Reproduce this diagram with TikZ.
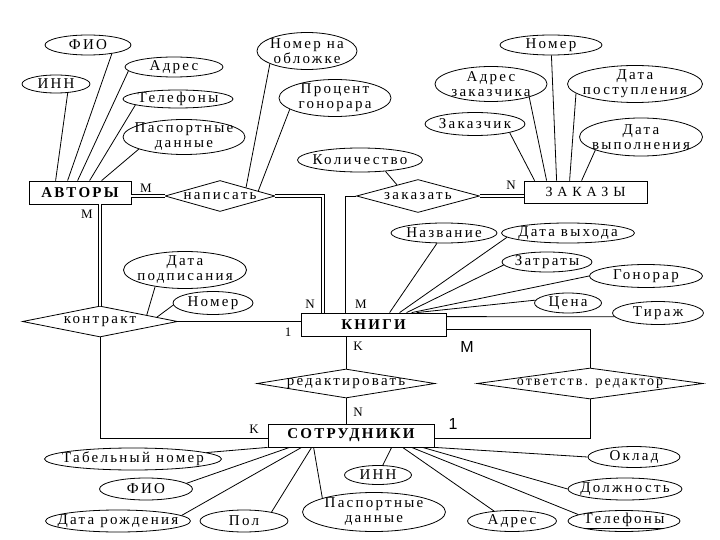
\documentclass[tikz,border=0pt]{standalone}
\usepackage{fontspec}
\setmainfont{Liberation Serif}[LetterSpace=15]
\newfontfamily\sansf{Liberation Sans}
\usetikzlibrary{shapes.geometric,calc}

\begin{document}
\begin{tikzpicture}[x=1pt,y=-1pt,line width=0.8pt,
   ent/.style={draw,inner sep=0pt,minimum height=23pt,font=\fontsize{15}{16}\selectfont\bfseries},
   rel/.style={draw,diamond,aspect=6,inner sep=-12pt,font=\fontsize{15}{16}\selectfont},
   attr/.style={draw,ellipse,inner sep=-25pt,align=center,font=\fontsize{15}{15}\selectfont},
   card/.style={inner sep=0pt,font=\fontsize{13}{13}\selectfont},
   big/.style={inner sep=0pt,font=\sansf\fontsize{16}{16}\selectfont},
   dbl/.style={double,line width=1pt,double distance=2pt}]
  \useasboundingbox (0,0) rectangle (720,540);
  \node[ent,minimum width=102pt] (av) at (80,192.5) {АВТОРЫ};
  \node[ent,minimum width=123pt,minimum height=22pt,font=\fontsize{14}{15}\selectfont\addfontfeature{LetterSpace=35}] (zk) at (585.5,192) {ЗАКАЗЫ};
  \node[ent,minimum width=145pt] (kn) at (373.5,324.5) {КНИГИ};
  \node[ent,minimum width=166pt] (so) at (351,435.5) {СОТРУДНИКИ};

  \node[rel,minimum width=110pt,minimum height=31pt] (nap) at (220,196) {написать};
  \node[rel,minimum width=123pt,minimum height=33pt] (zak) at (418,196) {заказать};
  \node[rel,minimum width=155pt,minimum height=31pt] (kon) at (100,321.5) {контракт};
  \node[rel,minimum width=178pt,minimum height=29pt] (red) at (346,383.5) {редактировать};
  \node[rel,minimum width=226pt,minimum height=31pt,font=\fontsize{14}{15}\selectfont] (otv) at (590,383.5) {ответств. редактор};

  \node[attr,minimum width=86pt,minimum height=20pt] (a1) at (88,45) {ФИО};
  \node[attr,minimum width=68pt,minimum height=18pt] (a2) at (56,84) {ИНН};
  \node[attr,minimum width=98pt,minimum height=20pt] (a3) at (174,67) {Адрес};
  \node[attr,minimum width=110pt,minimum height=18pt] (a4) at (178,99) {Телефоны};
  \node[attr,minimum width=122pt,minimum height=35pt] (a5) at (184,137) {Паспортные\\данные};

  \node[attr,minimum width=100pt,minimum height=37pt] (n1) at (307,51) {Номер на\\обложке};
  \node[attr,minimum width=112pt,minimum height=37pt] (n2) at (335,98) {Процент\\гонорара};
  \node[attr,minimum width=125pt,minimum height=24pt] (z1) at (360,160) {Количество};

  \node[attr,minimum width=102pt,minimum height=20pt] (o1) at (551,45) {Номер};
  \node[attr,minimum width=112pt,minimum height=35pt] (o2) at (491,84) {Адрес\\заказчика};
  \node[attr,minimum width=100pt,minimum height=23pt] (o3) at (475,124) {Заказчик};
  \node[attr,minimum width=135pt,minimum height=37pt] (o4) at (635,84) {Дата\\поступления};
  \node[attr,minimum width=123pt,minimum height=38pt] (o5) at (641,137) {Дата\\выполнения};

  \node[attr,minimum width=123pt,minimum height=37pt] (k1) at (185,270) {Дата\\подписания};
  \node[attr,minimum width=80pt,minimum height=23pt] (k2) at (213,303) {Номер};

  \node[attr,minimum width=106pt,minimum height=20pt] (b1) at (444,233) {Название};
  \node[attr,minimum width=133pt,minimum height=20pt] (b2) at (568,233) {Дата выхода};
  \node[attr,minimum width=90pt,minimum height=20pt] (b3) at (547,262) {Затраты};
  \node[attr,minimum width=113pt,minimum height=23pt] (b4) at (646,276) {Гонорар};
  \node[attr,minimum width=67pt,minimum height=20pt] (b5) at (568,303) {Цена};
  \node[attr,minimum width=91pt,minimum height=23pt] (b6) at (658,313) {Тираж};

  \node[attr,minimum width=177pt,minimum height=22pt] (s1) at (133,459) {Табельный номер};
  \node[attr,minimum width=93pt,minimum height=22pt] (s2) at (146,489) {ФИО};
  \node[attr,minimum width=145pt,minimum height=22pt] (s3) at (118,521) {Дата рождения};
  \node[attr,minimum width=88pt,minimum height=22pt] (s4) at (244,521) {Пол};
  \node[attr,minimum width=143pt,minimum height=39pt] (s5) at (374,512) {Паспортные\\данные};
  \node[attr,minimum width=67pt,minimum height=19pt] (s6) at (378,475) {ИНН};
  \node[attr,minimum width=89pt,minimum height=21pt] (s7) at (512,521) {Адрес};
  \node[attr,minimum width=112pt,minimum height=21pt] (s8) at (624,521) {\underline{Телефоны}};
  \node[attr,minimum width=114pt,minimum height=22pt] (s9) at (625,489) {Должность};
  \node[attr,minimum width=92pt,minimum height=21pt] (s10) at (634,457) {Оклад};

  \node[card] (c1) at (146,188) {M};
  \node[card] (c2) at (87,214) {M};
  \node[card] (c3) at (310,304) {N};
  \node[card] (c4) at (361,304) {M};
  \node[card] (c5) at (511,185) {N};
  \node[card] (c6) at (288,332) {1};
  \node[card] (c7) at (358,346) {K};
  \node[card] (c8) at (358,412) {N};
  \node[card] (c9) at (254,429) {K};
  \node[big] (c10) at (467,347) {M};
  \node[big] (c11) at (453,424) {1};

  \draw[dbl] (nap.west -| av.east) -- (nap.west);
  \draw[dbl] (kon.north |- av.south) -- (kon.north);
  \draw[dbl] (nap.east) -| ([xshift=22pt]kn.north west);
  \draw (zak.west) -| ([xshift=45pt]kn.north west);
  \draw[dbl] (zak.east) -- (zak.east -| zk.west);
  \draw (kon.east) -- (kon.east -| kn.west);
  \draw (kon.south) |- ([yshift=-2.5pt]so.west);
  \draw (red.north |- kn.south) -- (red.north);
  \draw (red.south) -- (red.south |- so.north);
  \draw ([yshift=-4.5pt]kn.east) -| (otv.north);
  \draw (otv.south) |- ([yshift=-2.5pt]so.east);

  \draw (a2.-37) -- ([xshift=27pt]av.north west);
  \draw (a1.-20) -- ([xshift=39pt]av.north west);
  \draw (a3.185) -- ([xshift=49pt]av.north west);
  \draw (a4.188) -- ([xshift=61pt]av.north west);
  \draw (a5.195) -- ([xshift=73pt]av.north west);
  \draw (n1.199) -- ($(nap.north)!0.47!(nap.east)$);
  \draw (n2.194) -- ($(nap.north)!0.69!(nap.east)$);
  \draw (z1.-24) -- ($(zak.north)!0.34!(zak.west)$);
  \draw (o3.-14) -- ([xshift=11pt]zk.north west);
  \draw (o2.-19) -- ([xshift=23pt]zk.north west);
  \draw (o1) -- ([xshift=33pt]zk.north west);
  \draw (o4.189) -- ([xshift=46pt]zk.north west);
  \draw (o5.196) -- ([xshift=58pt]zk.north west);
  \draw (k1.209) -- ($(kon.north)!0.6!(kon.east)$);
  \draw (k2.183) -- ($(kon.north)!0.73!(kon.east)$);
  \draw (b1) -- ([xshift=89pt]kn.north west);
  \draw (b2.184) -- ([xshift=99pt]kn.north west);
  \draw (b3.184) -- ([xshift=106pt]kn.north west);
  \draw (b4.west) -- ([xshift=111pt]kn.north west);
  \draw (b5.175) -- ([xshift=116pt]kn.north west);
  \draw (b6.185) -- ([yshift=-4pt]kn.north east);
  \draw (s1.5) -- (so.south west);
  \draw (s2.8) -- ([xshift=22pt]so.south west);
  \draw (s3.5) -- ([xshift=34pt]so.south west);
  \draw (s4.18) -- ([xshift=44pt]so.south west);
  \draw (s5.165) -- ([xshift=46pt]so.south west);
  \draw (s6) -- ([xshift=124pt]so.south west);
  \draw (s7.151) -- ([xshift=135pt]so.south west);
  \draw (s8.172) -- ([xshift=144pt]so.south west);
  \draw (s9.west) -- ([xshift=155pt]so.south west);
  \draw (s10.west) -- (so.south east);
\end{tikzpicture}
\end{document}
